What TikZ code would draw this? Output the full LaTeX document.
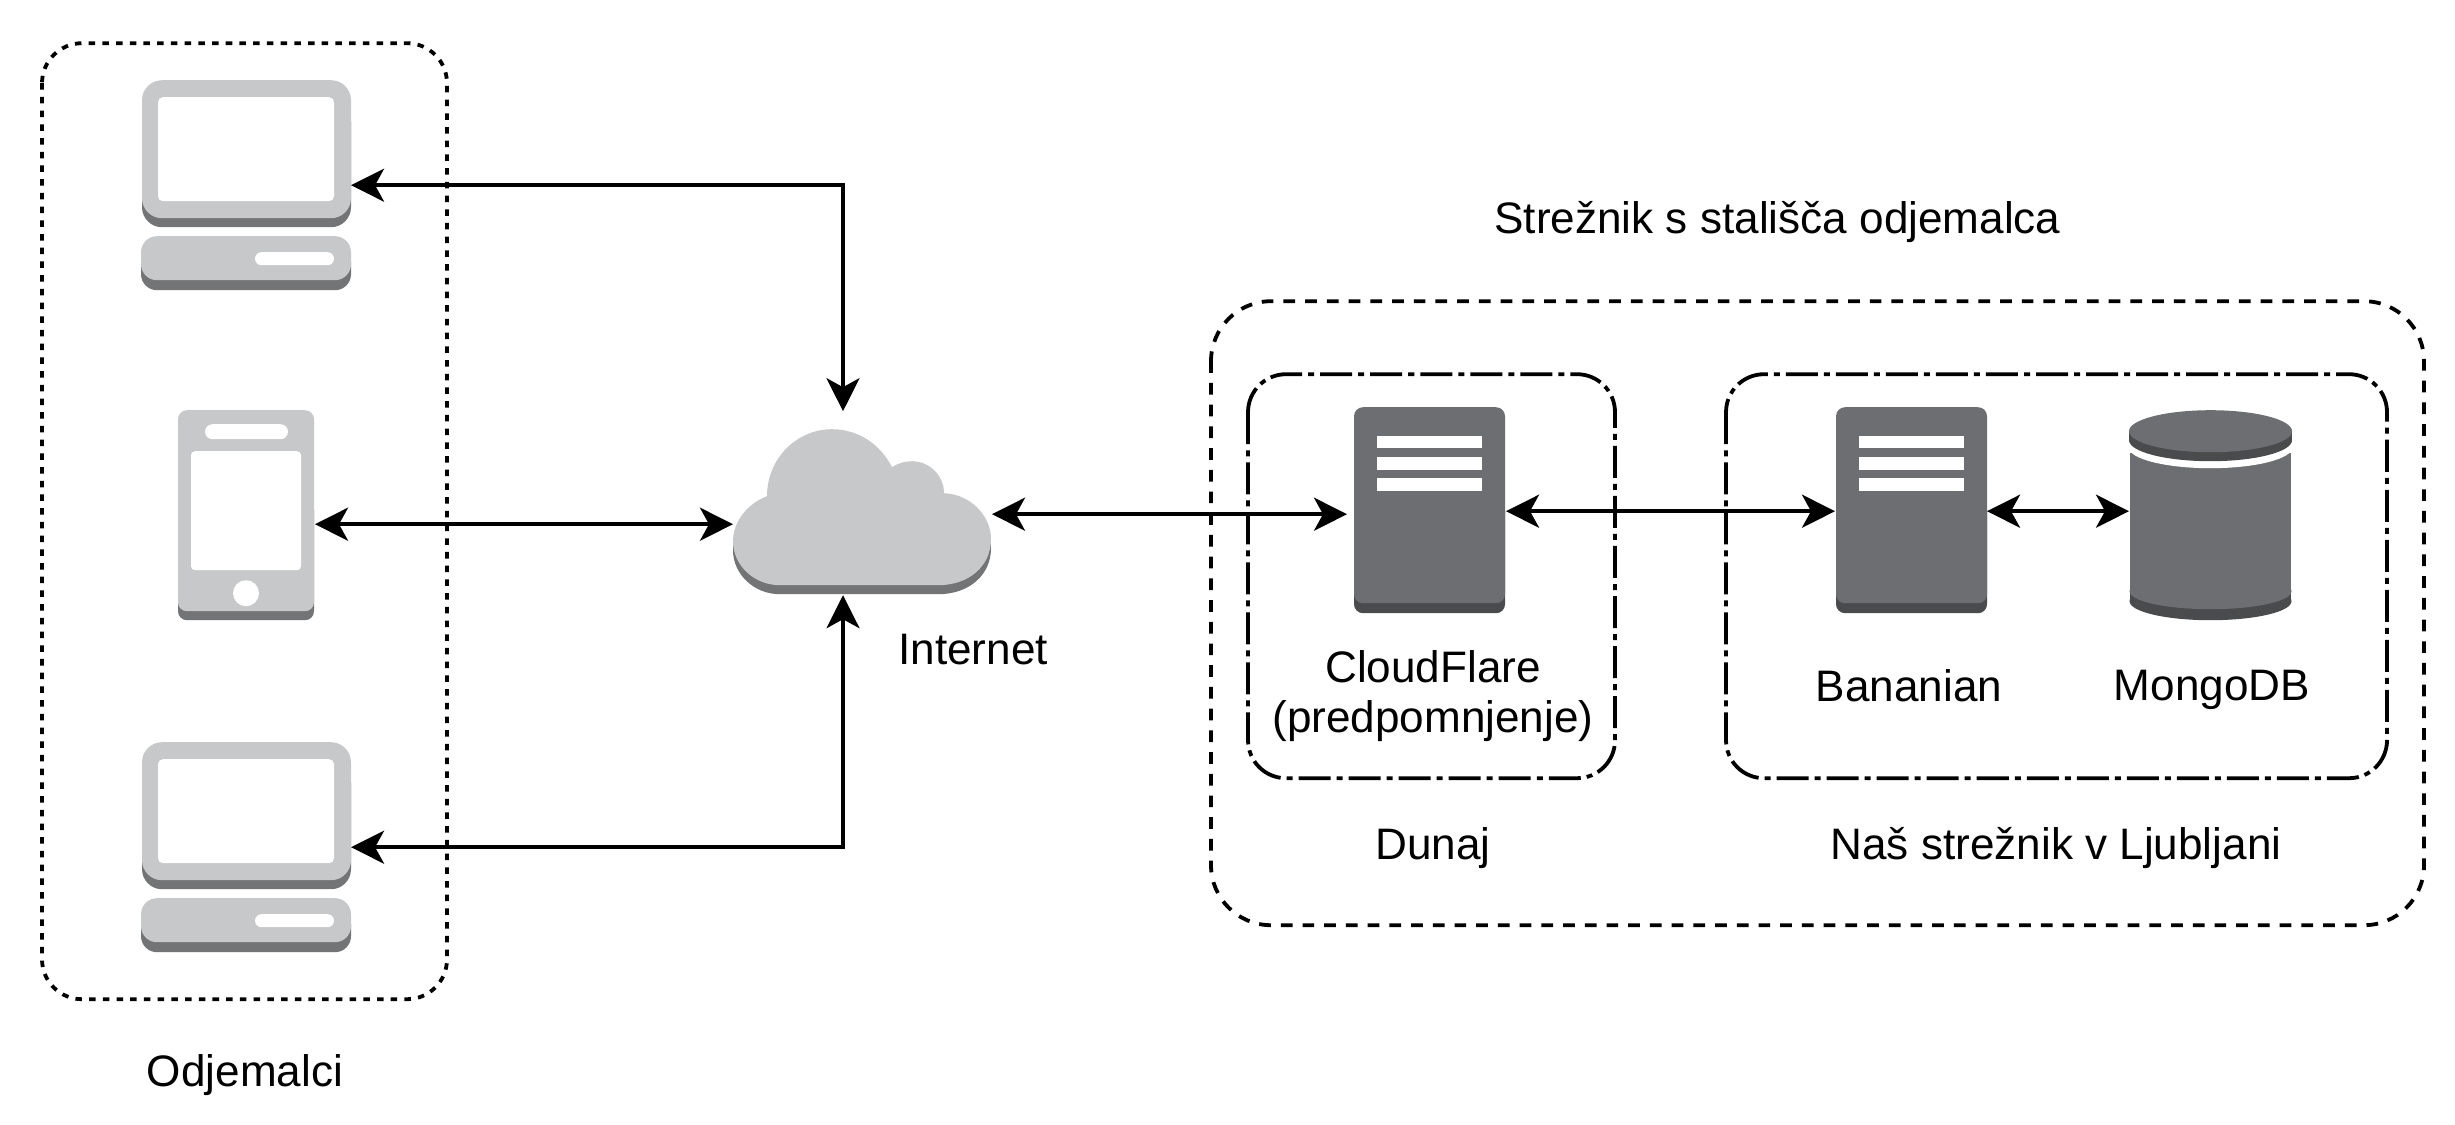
\documentclass[tikz,border=0pt]{standalone}
\usepackage{fontspec}
\setmainfont{Liberation Sans}
\usetikzlibrary{arrows.meta}
\definecolor{lightg}{HTML}{C7C8CA}
\definecolor{lightedge}{HTML}{727476}
\definecolor{darkg}{HTML}{6D6E71}
\definecolor{darkedge}{HTML}{4A4B4D}
\tikzset{
  label text/.style={font=\fontsize{12.54pt}{14.2pt}\selectfont,align=center,inner sep=0pt,text=black},
  anchorbox/.style={inner sep=0pt,outer sep=0pt,minimum width=#1},
  conn/.style={line width=0.036cm,black,{Stealth[length=0.33cm,width=0.33cm,inset=0.09cm]}-{Stealth[length=0.33cm,width=0.33cm,inset=0.09cm]}},
  dottedbox/.style={draw=black,line width=0.038cm,rounded corners=0.4cm,dash pattern=on 0.065cm off 0.072cm},
  dashedbox/.style={draw=black,line width=0.038cm,rounded corners=0.6cm,dash pattern=on 0.117cm off 0.1cm},
  dashdotbox/.style={draw=black,line width=0.038cm,rounded corners=0.38cm,dash pattern=on 0.32cm off 0.06cm on 0.06cm off 0.06cm},
}
\newcommand{\pcicon}[1]{%
  \begin{scope}[shift={(0,#1)}]
    \fill[lightedge,rounded corners=0.2cm] (142,100) rectangle (351,226);
    \fill[lightg,rounded corners=0.2cm] (142,79) rectangle (351,217);
    \fill[white,rounded corners=0.05cm] (158,96) rectangle (334,200);
    \fill[lightedge,rounded corners=0.16cm] (141,245) rectangle (351,289);
    \fill[lightg,rounded corners=0.16cm] (141,235) rectangle (351,279);
    \fill[white,rounded corners=0.065cm] (255,251) rectangle (334,264);
  \end{scope}}
\newcommand{\srvicon}[1]{%
  \begin{scope}[shift={(#1,0)}]
    \fill[darkedge,rounded corners=0.09cm] (1354,500) rectangle (1505,612);
    \fill[darkg,rounded corners=0.09cm] (1354,406) rectangle (1505,602);
    \fill[white] (1377,435) rectangle (1482,447);
    \fill[white] (1377,456) rectangle (1482,469);
    \fill[white] (1377,477) rectangle (1482,490);
  \end{scope}}
\begin{document}
\begin{tikzpicture}[x=0.01cm,y=-0.01cm]
\useasboundingbox (0,0) rectangle (2455,1124);
\fill[white] (0,0) rectangle (2455,1124);

\begin{scope}[shift={(0,1.2)}]
% containers
\draw[dottedbox] (42,42) rectangle (447,998);
\draw[dashedbox] (1211,300) rectangle (2424,924);
\draw[dashdotbox] (1248,373) rectangle (1615,777);
\draw[dashdotbox] (1726,373) rectangle (2387,777);

% computers
\pcicon{0}
\pcicon{662}
\node[anchorbox=2.09cm,minimum height=2.10cm] (pcTop) at (246.5,184) {};
\node[anchorbox=2.09cm,minimum height=2.10cm] (pcBottom) at (246.5,846) {};

% phone
\fill[lightedge,rounded corners=0.09cm] (178,500) rectangle (314,619);
\fill[lightg,rounded corners=0.09cm] (178,409) rectangle (314,610);
\fill[white,rounded corners=0.075cm] (205,423) rectangle (288,438);
\fill[white,rounded corners=0.04cm] (191,450) rectangle (301,569);
\fill[white] (246,592) circle[radius=13];
\coordinate (phoneE) at (315,523);

% cloud
\fill[lightedge] (733,549) .. controls (733,529) and (748,511) .. (767,504) -- (944,501)
  .. controls (970,502) and (991,523) .. (991,547)
  .. controls (991,573) and (970,593) .. (938,593) -- (780,593)
  .. controls (754,593) and (733,573) .. (733,549) -- cycle;
\fill[lightg] (733,540) .. controls (733,520) and (748,502) .. (767,495)
  .. controls (767,457) and (797,428) .. (832,428)
  .. controls (859,428) and (881,444) .. (892,466)
  .. controls (898,462) and (905,460) .. (912,460)
  .. controls (930,460) and (944,475) .. (944,492)
  .. controls (970,493) and (991,514) .. (991,538)
  .. controls (991,564) and (970,584) .. (938,584) -- (780,584)
  .. controls (754,584) and (733,564) .. (733,540) -- cycle;
\coordinate (cloudW) at (733,523);
\coordinate (cloudE) at (992,513);
\coordinate (cloudN) at (843,410);
\coordinate (cloudS) at (843,594);

% servers
\srvicon{0}
\srvicon{482}
\coordinate (srvAW) at (1347,513);
\coordinate (srvAE) at (1506,510);
\coordinate (srvBW) at (1835,510);
\coordinate (srvBE) at (1987,510);

% database
\fill[darkedge] (2130,590) rectangle (2291,600);
\fill[darkedge] (2210.5,600) ellipse[x radius=81,y radius=19];
\fill[darkg] (2210.5,590) ellipse[x radius=81,y radius=18];
\fill[darkg] (2130,452) rectangle (2291,590);
\fill[white] (2210.5,446) ellipse[x radius=82,y radius=21];
\fill[darkedge] (2129,430) rectangle (2292,439);
\fill[darkedge] (2210.5,439) ellipse[x radius=81.5,y radius=21];
\fill[darkg] (2210.5,430) ellipse[x radius=81.5,y radius=21];
\coordinate (dbW) at (2129,510);

% connectors
\draw[conn] (pcTop.east) -| (cloudN);
\draw[conn] (phoneE) -- (cloudW);
\draw[conn] (pcBottom.east) -| (cloudS);
\draw[conn] (cloudE) -- (srvAW);
\draw[conn] (srvAE) -- (srvBW);
\draw[conn] (srvBE) -- (dbW);
\end{scope}

% labels
\node[label text] (lblClients) at (245,1075) {Odjemalci};
\node[label text] (lblInternet) at (973,650) {Internet};
\node[label text] (lblView) at (1777.5,222) {Strežnik s stališča odjemalca};
\node[label text] (lblCF) at (1433,696) {CloudFlare\\(predpomnjenje)};
\node[label text] (lblBan) at (1909,686) {Bananian};
\node[label text] (lblMongo) at (2212,690) {MongoDB};
\node[label text] (lblDunaj) at (1433,848) {Dunaj};
\node[label text] (lblLj) at (2056,848) {Naš strežnik v Ljubljani};
\end{tikzpicture}
\end{document}
